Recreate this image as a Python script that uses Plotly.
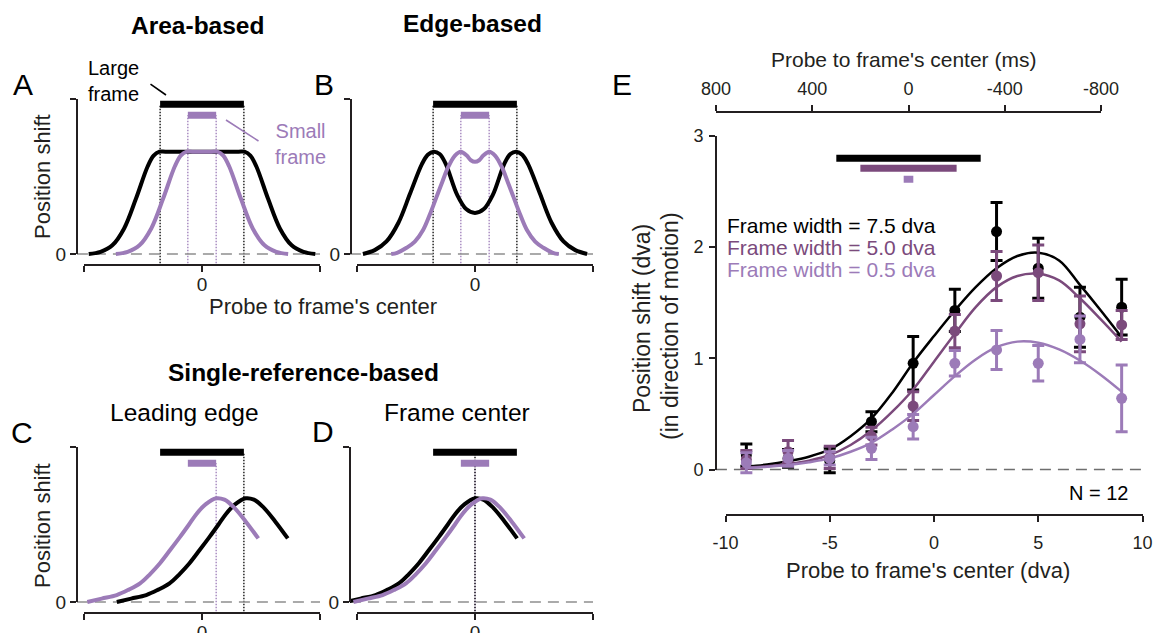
import plotly.graph_objects as go

W, H = 1166, 633
FONT = "Liberation Sans, Arial, Helvetica, sans-serif"
INK = "#231f20"
BLACK = "#000000"
DARK = "#7b4a7c"
LIGHT = "#9c7bb8"
GRAY = "#8f8f8f"

# ---------------- data: model panels (arbitrary units) ----------------
LARGE_HALF = 3.55   # half width of the large frame
SMALL_HALF = 1.2    # half width of the small frame

# A: area-based
A_large_x = [-9.6, -8.6, -7.6, -6.6, -5.6, -4.6, -4.1, -3.6, -3.1, 0.0, 3.1, 3.6, 4.1, 4.6, 5.6, 6.6, 7.6, 8.6, 9.6]
A_large_y = [0.0, 0.014, 0.056, 0.165, 0.356, 0.566, 0.635, 0.66, 0.66, 0.66, 0.66, 0.66, 0.635, 0.566, 0.356, 0.165, 0.056, 0.014, 0.0]
A_small_x = [-7.3, -6.3, -5.3, -4.3, -3.3, -2.3, -1.8, -1.3, -0.8, 0.0, 0.8, 1.3, 1.8, 2.3, 3.3, 4.3, 5.3, 6.3, 7.3]
A_small_y = [0.0, 0.014, 0.056, 0.165, 0.356, 0.566, 0.635, 0.66, 0.66, 0.66, 0.66, 0.66, 0.635, 0.566, 0.356, 0.165, 0.056, 0.014, 0.0]

# B: edge-based
B_large_x = [-9.5, -8.5, -7.5, -6.5, -5.5, -4.5, -4.0, -3.5, -3.0, -2.5, -1.5, -0.75, 0.0,
             0.75, 1.5, 2.5, 3.0, 3.5, 4.0, 4.5, 5.5, 6.5, 7.5, 8.5, 9.5]
B_large_y = [0.0, 0.025, 0.081, 0.20, 0.39, 0.58, 0.64, 0.66, 0.645, 0.585, 0.38, 0.29, 0.265,
             0.29, 0.38, 0.585, 0.645, 0.66, 0.64, 0.58, 0.39, 0.20, 0.081, 0.025, 0.0]
B_small_x = [-7.1, -6.6, -5.8, -5.1, -4.4, -3.8, -3.25, -2.75, -2.26, -1.7, -1.2, -0.7, -0.35, 0.0,
             0.35, 0.7, 1.2, 1.7, 2.26, 2.75, 3.25, 3.8, 4.4, 5.1, 5.8, 6.6, 7.1]
B_small_y = [0.0, 0.008, 0.04, 0.08, 0.155, 0.26, 0.37, 0.47, 0.563, 0.635, 0.66, 0.635, 0.605, 0.595,
             0.605, 0.635, 0.66, 0.635, 0.563, 0.47, 0.37, 0.26, 0.155, 0.08, 0.04, 0.008, 0.0]

# C: leading edge
C_large_x = [-7.22, -6.0, -4.73, -3.7, -2.75, -1.9, -1.06, -0.2, 0.64, 1.4, 2.05, 2.8, 3.7, 4.4, 5.15, 6.2, 7.27]
C_large_y = [0.0, 0.022, 0.045, 0.08, 0.12, 0.18, 0.25, 0.335, 0.42, 0.50, 0.57, 0.63, 0.669, 0.66, 0.615, 0.52, 0.41]
C_small_x = [-9.72, -8.5, -7.23, -6.2, -5.25, -4.4, -3.56, -2.7, -1.86, -1.1, -0.45, 0.3, 1.2, 1.9, 2.65, 3.7, 4.77]
C_small_y = [0.0, 0.022, 0.045, 0.08, 0.12, 0.18, 0.25, 0.335, 0.42, 0.50, 0.57, 0.63, 0.669, 0.66, 0.615, 0.52, 0.41]

# D: frame center
D_large_x = [-10.7, -9.7, -8.43, -7.4, -6.45, -5.6, -4.76, -3.9, -3.06, -2.3, -1.65, -0.9, 0.0, 0.7, 1.45, 2.5, 3.57]
D_large_y = [0.004, 0.022, 0.045, 0.08, 0.12, 0.18, 0.25, 0.335, 0.42, 0.50, 0.57, 0.63, 0.669, 0.66, 0.615, 0.52, 0.41]
D_small_x = [-10.3, -9.1, -7.83, -6.8, -5.85, -5.0, -4.16, -3.3, -2.46, -1.7, -1.05, -0.3, 0.6, 1.3, 2.05, 3.1, 4.17]
D_small_y = [0.0, 0.022, 0.045, 0.08, 0.12, 0.18, 0.25, 0.335, 0.42, 0.50, 0.57, 0.63, 0.669, 0.66, 0.615, 0.52, 0.41]

# ---------------- data: panel E ----------------
E_x = [-9, -7, -5, -3, -1, 1, 3, 5, 7, 9]
E75_mean = [0.13, 0.10, 0.08, 0.43, 0.955, 1.43, 2.14, 1.81, 1.37, 1.46]
E75_err = [0.10, 0.08, 0.11, 0.09, 0.24, 0.19, 0.26, 0.27, 0.27, 0.25]
E50_mean = [0.09, 0.16, 0.11, 0.30, 0.57, 1.245, 1.74, 1.77, 1.31, 1.30]
E50_err = [0.08, 0.10, 0.10, 0.08, 0.13, 0.15, 0.22, 0.25, 0.25, 0.13]
E05_mean = [0.06, 0.10, 0.10, 0.19, 0.385, 0.955, 1.075, 0.955, 1.17, 0.64]
E05_err = [0.09, 0.07, 0.06, 0.10, 0.11, 0.115, 0.175, 0.16, 0.21, 0.30]

fit_x = [-9, -8, -7, -6, -5, -4, -3, -2, -1, 0, 1, 2, 3, 4, 5, 6, 7, 8, 9]
fit75 = [0.025, 0.045, 0.075, 0.115, 0.18, 0.30, 0.46, 0.69, 0.96, 1.20, 1.43, 1.64, 1.81, 1.92, 1.95, 1.88, 1.66, 1.43, 1.19]
fit50 = [0.02, 0.03, 0.05, 0.08, 0.13, 0.22, 0.35, 0.52, 0.72, 0.97, 1.22, 1.46, 1.64, 1.74, 1.76, 1.70, 1.54, 1.35, 1.15]
fit05 = [0.015, 0.025, 0.04, 0.065, 0.10, 0.16, 0.24, 0.36, 0.50, 0.67, 0.84, 0.99, 1.10, 1.15, 1.14, 1.08, 0.98, 0.85, 0.70]

frame_ms_half = [300, 200, 20]          # presentation half-durations (ms)
series_labels = ["Frame width = 7.5 dva", "Frame width = 5.0 dva", "Frame width = 0.5 dva"]
ms_ticks = [800, 400, 0, -400, -800]
dva_ticks = [-10, -5, 0, 5, 10]
E_yticks = [0, 1, 2, 3]

# ---------------- helpers ----------------
def fx(px):
    return px / W


def fy(py):
    return 1 - py / H


layout = {}
traces = []
annotations = []
_count = [0]


def new_id():
    _count[0] += 1
    return _count[0]


def xn(n):
    return "x" if n == 1 else f"x{n}"


def yn(n):
    return "y" if n == 1 else f"y{n}"


def xk(n):
    return "xaxis" if n == 1 else f"xaxis{n}"


def yk(n):
    return "yaxis" if n == 1 else f"yaxis{n}"


def axis_style(size):
    return dict(showline=True, linecolor=INK, linewidth=2, ticks="outside", ticklen=6,
                tickwidth=2, tickcolor=INK, showgrid=False, zeroline=False, fixedrange=True,
                automargin=False, tickfont=dict(family=FONT, size=size, color=INK))


def hidden(**kw):
    return dict(visible=False, fixedrange=True, automargin=False, **kw)


def dummy(xa, ya):
    traces.append(go.Scatter(x=[0], y=[0], xaxis=xa, yaxis=ya, mode="markers",
                             marker=dict(opacity=0), hoverinfo="skip", showlegend=False))


def text(s, px, py, size, color=INK, xanchor="center", yanchor="middle", angle=0):
    annotations.append(dict(text=s, x=fx(px), y=fy(py), xref="paper", yref="paper",
                            xanchor=xanchor, yanchor=yanchor, showarrow=False, textangle=angle,
                            font=dict(family=FONT, size=size, color=color)))


def line(xa, ya, x, y, color, width, dash=None, shape="linear"):
    traces.append(go.Scatter(x=x, y=y, xaxis=xa, yaxis=ya, mode="lines",
                             line=dict(color=color, width=width, dash=dash, shape=shape),
                             hoverinfo="skip", showlegend=False))


SX, SY = 11.8, 155.0
BAR_Y_LARGE, BAR_Y_SMALL = 0.966, 0.895


def small_panel(cx, y0, yax_px, xax_px, curves, dotted):
    n = new_id()
    xr = [-10.6, 11.2]
    yr = [-0.12, 1.05]
    layout[xk(n)] = hidden(domain=[fx(cx + xr[0] * SX), fx(cx + xr[1] * SX)], range=xr, anchor=yn(n))
    layout[yk(n)] = hidden(domain=[fy(y0 - yr[0] * SY), fy(y0 - yr[1] * SY)], range=yr, anchor=xn(n))
    m = new_id()
    layout[xk(m)] = dict(domain=[fx(cx - 10 * SX), fx(cx + 10 * SX)], range=[-10, 10],
                         anchor="free", position=fy(xax_px), tickvals=[-10, 0, 10],
                         ticktext=["", "0", ""], ticklabelstandoff=-4, **axis_style(19))
    layout[yk(m)] = dict(domain=[fy(y0), fy(y0 - SY)], range=[0, 1], anchor="free",
                         position=fx(yax_px), tickvals=[0, 1], ticktext=["0", ""],
                         **axis_style(19))
    dummy(xn(m), yn(m))
    xa, ya = xn(n), yn(n)
    # dotted frame-edge lines
    for xv, col, top in dotted:
        line(xa, ya, [xv, xv], [-0.06, top], col, 1.3, dash="1.5px,1.5px")
    # zero reference
    line(xa, ya, [xr[0], 10], [0, 0], GRAY, 1.5, dash="11px,7px")
    for cxs, cys, col in curves:
        line(xa, ya, cxs, cys, col, 4, shape="spline")
    # frame bars
    line(xa, ya, [-LARGE_HALF, LARGE_HALF], [BAR_Y_LARGE, BAR_Y_LARGE], BLACK, 7)
    line(xa, ya, [-SMALL_HALF, SMALL_HALF], [BAR_Y_SMALL, BAR_Y_SMALL], LIGHT, 7)


both_edges = [(-LARGE_HALF, BLACK, BAR_Y_LARGE), (LARGE_HALF, BLACK, BAR_Y_LARGE),
              (-SMALL_HALF, LIGHT, BAR_Y_SMALL), (SMALL_HALF, LIGHT, BAR_Y_SMALL)]

small_panel(202, 254, 77, 265, [(A_large_x, A_large_y, BLACK), (A_small_x, A_small_y, LIGHT)], both_edges)
small_panel(475, 254, 351, 265, [(B_large_x, B_large_y, BLACK), (B_small_x, B_small_y, LIGHT)], both_edges)
small_panel(202, 602, 77, 613, [(C_large_x, C_large_y, BLACK), (C_small_x, C_small_y, LIGHT)],
            [(LARGE_HALF, BLACK, BAR_Y_LARGE), (SMALL_HALF, LIGHT, BAR_Y_SMALL)])
small_panel(475, 602, 350, 613, [(D_large_x, D_large_y, BLACK), (D_small_x, D_small_y, LIGHT)],
            [(0, LIGHT, BAR_Y_SMALL), (0, BLACK, BAR_Y_LARGE)])

# ---------------- panel E ----------------
EX0, ESX, EY0, ESY = 934.0, 20.85, 469.5, 111.2
n = new_id()
E_xr = [-10.46, 10.3]
E_yr = [-0.3, 3.1]
layout[xk(n)] = hidden(domain=[fx(EX0 + E_xr[0] * ESX), fx(EX0 + E_xr[1] * ESX)], range=E_xr, anchor=yn(n))
layout[yk(n)] = hidden(domain=[fy(EY0 - E_yr[0] * ESY), fy(EY0 - E_yr[1] * ESY)], range=E_yr, anchor=xn(n))
EXA, EYA = xn(n), yn(n)

m = new_id()
layout[xk(m)] = dict(domain=[fx(EX0 - 10 * ESX), fx(EX0 + 10 * ESX)], range=[-10, 10],
                     anchor="free", position=fy(515), tickvals=dva_ticks,
                     ticktext=[str(v) for v in dva_ticks], ticklabelstandoff=5, **axis_style(18))
layout[yk(m)] = dict(domain=[fy(EY0), fy(EY0 - 3 * ESY)], range=[0, 3], anchor="free",
                     position=fx(716), tickvals=E_yticks, ticklabelstandoff=2, **axis_style(18))
dummy(xn(m), yn(m))

t = new_id()
layout[xk(t)] = dict(domain=[fx(716), fx(1101)], range=[800, -800], anchor="free",
                     position=fy(112), side="top", tickvals=ms_ticks,
                     ticktext=[str(v) for v in ms_ticks], ticklabelstandoff=3, **axis_style(18))
layout[yk(t)] = hidden(domain=[fy(EY0 - E_yr[0] * ESY), fy(EY0 - E_yr[1] * ESY)], range=E_yr,
                       anchor="free", position=0)

line(EXA, EYA, [E_xr[0], 10], [0, 0], "#6e6e6e", 1.3, dash="11px,7px")

colors = [BLACK, DARK, LIGHT]
means = [E75_mean, E50_mean, E05_mean]
errs = [E75_err, E50_err, E05_err]
fits = [fit75, fit50, fit05]
for col, mu, er, ft in zip(colors, means, errs, fits):
    traces.append(go.Scatter(x=E_x, y=mu, xaxis=EXA, yaxis=EYA, mode="markers",
                             marker=dict(size=11, color=col),
                             error_y=dict(type="data", array=er, color=col, thickness=3, width=6),
                             hoverinfo="skip", showlegend=False))
    line(EXA, EYA, fit_x, ft, col, 2.5, shape="spline")

bar_levels = [2.80, 2.71, 2.61]
for col, half, lev in zip(colors, frame_ms_half, bar_levels):
    line(xn(t), yn(t), [half, -half], [lev, lev], col, 7)

# ---------------- text ----------------
text("<b>Area-based</b>", 197, 25, 24.5, BLACK)
text("<b>Edge-based</b>", 472, 23, 24.5, BLACK)
text("<b>Single-reference-based</b>", 303, 372, 24.5, BLACK)
text("Leading edge", 184, 412, 24.5, BLACK)
text("Frame center", 457, 412, 24.5, BLACK)

for letter, px, py in [("A", 23, 85), ("B", 324, 85), ("C", 22, 432), ("D", 323, 431), ("E", 622, 84)]:
    text(letter, px, py, 30, BLACK)

text("Position shift", 42, 177, 22, INK, angle=-90)
text("Position shift", 42, 526, 22, INK, angle=-90)
text("Probe to frame's center", 323, 306, 22, INK)

text("Large<br>frame", 141, 81, 20, BLACK, xanchor="right")
text("Small<br>frame", 273, 144, 20, LIGHT, xanchor="left")
annotations.append(dict(x=fx(166), y=fy(95), ax=-17, ay=-12, xref="paper", yref="paper",
                        text="", showarrow=True, arrowhead=0, arrowwidth=1.6, arrowcolor=BLACK))
annotations.append(dict(x=fx(226), y=fy(120), ax=34, ay=22, xref="paper", yref="paper",
                        text="", showarrow=True, arrowhead=0, arrowwidth=1.6, arrowcolor=LIGHT))

text("Probe to frame's center (ms)", 903, 60, 21, INK)
text("Probe to frame's center (dva)", 928, 570, 22, INK)
text("Position shift (dva)", 642, 319, 23, INK, angle=-90)
text("(in direction of motion)", 670, 326, 23, INK, angle=-90)

for lab, col, py in zip(series_labels, colors, [225, 247, 269]):
    text(lab, 725, py, 21, col, xanchor="left")
text("N = 12", 1130, 493, 20, BLACK, xanchor="right")

fig = go.Figure(data=traces)
fig.update_layout(**layout)
fig.update_layout(width=W, height=H, autosize=False,
                  margin=dict(l=0, r=0, t=0, b=0, pad=0, autoexpand=False),
                  paper_bgcolor="white", plot_bgcolor="rgba(0,0,0,0)", showlegend=False,
                  annotations=annotations, font=dict(family=FONT, color=INK))
fig.write_html("out.html", config={"displayModeBar": False},
               post_script="document.body.style.margin='0';document.body.style.overflow='hidden';")
